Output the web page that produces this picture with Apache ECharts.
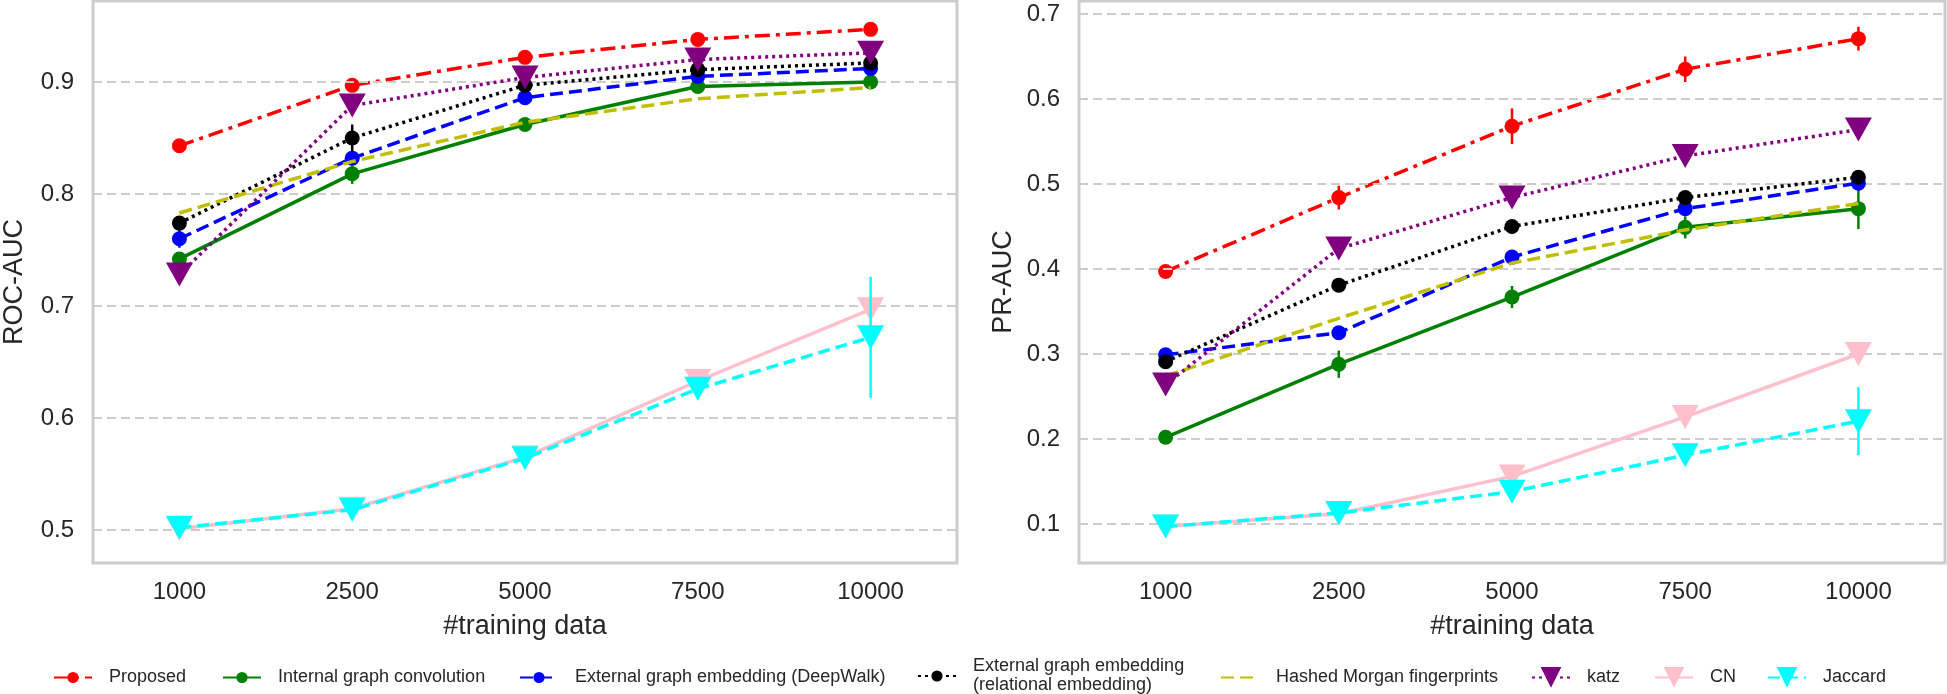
<!DOCTYPE html>
<html>
<head>
<meta charset="utf-8">
<script src="https://cdn.jsdelivr.net/npm/echarts@6/dist/echarts.min.js"></script>
<style>
html,body{margin:0;padding:0;background:#fff;}
#chart{width:1947px;height:694px;}
</style>
</head>
<body>
<div id="chart"></div>
<script>
// ---------- DATA ----------
const categories = ['1000', '2500', '5000', '7500', '10000'];
const rocTicks = [0.5, 0.6, 0.7, 0.8, 0.9];
const prTicks = [0.1, 0.2, 0.3, 0.4, 0.5, 0.6, 0.7];

const seriesNames = [
  'Proposed',
  'Internal graph convolution',
  'External graph embedding (DeepWalk)',
  'External graph embedding\n(relational embedding)',
  'Hashed Morgan fingerprints',
  'katz',
  'CN',
  'Jaccard'
];

// ROC-AUC means
const rocProposed   = [0.843, 0.897, 0.922, 0.938, 0.947];
const rocInternal   = [0.742, 0.818, 0.862, 0.896, 0.900];
const rocDeepWalk   = [0.760, 0.832, 0.886, 0.905, 0.912];
const rocRelational = [0.774, 0.850, 0.897, 0.911, 0.917];
const rocMorgan     = [0.783, 0.829, 0.864, 0.885, 0.895];
const rocKatz       = [0.728, 0.879, 0.904, 0.920, 0.926];
const rocCN         = [0.501, 0.519, 0.565, 0.633, 0.697];
const rocJaccard    = [0.502, 0.518, 0.564, 0.626, 0.672];
// ROC-AUC error (std)
const rocProposedErr   = [0.003, 0.003, 0.003, 0.002, 0.002];
const rocInternalErr   = [0.006, 0.009, 0.005, 0.004, 0.003];
const rocDeepWalkErr   = [0.008, 0.005, 0.004, 0.003, 0.003];
const rocRelationalErr = [0.006, 0.012, 0.004, 0.003, 0.003];
const rocMorganErr     = [0, 0, 0, 0, 0];
const rocKatzErr       = [0.003, 0.003, 0.002, 0.002, 0.002];
const rocCNErr         = [0.002, 0.002, 0.003, 0.004, 0.006];
const rocJaccardErr    = [0.003, 0.003, 0.004, 0.006, 0.054];

// PR-AUC means
const prProposed   = [0.397, 0.484, 0.568, 0.635, 0.671];
const prInternal   = [0.202, 0.288, 0.367, 0.449, 0.471];
const prDeepWalk   = [0.299, 0.325, 0.414, 0.471, 0.501];
const prRelational = [0.291, 0.381, 0.450, 0.484, 0.508];
const prMorgan     = [0.274, 0.342, 0.407, 0.446, 0.477];
const prKatz       = [0.264, 0.424, 0.484, 0.533, 0.564];
const prCN         = [0.097, 0.112, 0.156, 0.226, 0.300];
const prJaccard    = [0.097, 0.113, 0.138, 0.181, 0.221];
// PR-AUC error (std)
const prProposedErr   = [0.004, 0.014, 0.021, 0.015, 0.014];
const prInternalErr   = [0.004, 0.016, 0.013, 0.013, 0.024];
const prDeepWalkErr   = [0.008, 0.006, 0.006, 0.006, 0.006];
const prRelationalErr = [0.006, 0.005, 0.005, 0.005, 0.005];
const prMorganErr     = [0, 0, 0, 0, 0];
const prKatzErr       = [0.004, 0.004, 0.004, 0.004, 0.004];
const prCNErr         = [0.002, 0.002, 0.004, 0.005, 0.006];
const prJaccardErr    = [0.002, 0.002, 0.004, 0.005, 0.040];

// ---------- STYLES ----------
const styles = [
  {color: '#ff0000', type: [15, 6, 4, 6], symbol: 'circle', size: 15},
  {color: '#008000', type: 'solid', symbol: 'circle', size: 15},
  {color: '#0000ff', type: [13, 6], symbol: 'circle', size: 15},
  {color: '#000000', type: [3, 4], symbol: 'circle', size: 15},
  {color: '#bfbf00', type: [13, 6], symbol: 'none', size: 0},
  {color: '#800080', type: [3, 4], symbol: 'triangle', size: [27, 24]},
  {color: '#ffc0cb', type: 'solid', symbol: 'triangle', size: [27, 24]},
  {color: '#00ffff', type: [12, 6], symbol: 'triangle', size: [27, 24]}
];

const rocMeans = [rocProposed, rocInternal, rocDeepWalk, rocRelational, rocMorgan, rocKatz, rocCN, rocJaccard];
const rocErrs  = [rocProposedErr, rocInternalErr, rocDeepWalkErr, rocRelationalErr, rocMorganErr, rocKatzErr, rocCNErr, rocJaccardErr];
const prMeans  = [prProposed, prInternal, prDeepWalk, prRelational, prMorgan, prKatz, prCN, prJaccard];
const prErrs   = [prProposedErr, prInternalErr, prDeepWalkErr, prRelationalErr, prMorganErr, prKatzErr, prCNErr, prJaccardErr];

const FONT = 'Liberation Sans, Arial, Helvetica, sans-serif';
const TXT = '#262626';
const GRIDC = '#cccccc';

function buildSeries(means, errs, axisIdx, ticks) {
  const out = [];
  out.push({
    type: 'line', xAxisIndex: axisIdx, yAxisIndex: axisIdx, z: 1, silent: true,
    data: categories.map(() => null), showSymbol: false,
    markLine: {
      silent: true, symbol: ['none', 'none'], label: {show: false},
      lineStyle: {color: GRIDC, type: [9, 5], width: 2},
      data: ticks.map(t => ({yAxis: t}))
    }
  });
  means.forEach((m, i) => {
    const st = styles[i];
    out.push({
      name: seriesNames[i], type: 'line', xAxisIndex: axisIdx, yAxisIndex: axisIdx,
      z: 3 + i * 2, data: m,
      symbol: st.symbol, symbolSize: st.size, symbolRotate: st.symbol === 'triangle' ? 180 : 0,
      showSymbol: st.symbol !== 'none',
      lineStyle: {color: st.color, width: 3.5, type: st.type},
      itemStyle: {color: st.color, borderWidth: 0},
      animation: false
    });
    out.push({
      type: 'custom', xAxisIndex: axisIdx, yAxisIndex: axisIdx, z: 3 + i * 2, silent: true,
      data: m.map((v, k) => [k, v, errs[i][k]]),
      renderItem: function (params, api) {
        const e = api.value(2);
        if (!e) return null;
        const x = api.value(0), y = api.value(1);
        const p1 = api.coord([x, y - e]);
        const p2 = api.coord([x, y + e]);
        return {type: 'line', shape: {x1: p1[0], y1: p1[1], x2: p2[0], y2: p2[1]},
                style: {stroke: st.color, lineWidth: 2.5}};
      },
      animation: false
    });
  });
  return out;
}

const legendLeft = [53, 222, 519, 917, 1220, 1531, 1654, 1767];
const legendTop  = [668, 668, 668, 657, 668, 667, 667, 667];
const legends = seriesNames.map((n, i) => {
  const tri = styles[i].symbol === 'triangle';
  const ih = tri ? 26 : 14;
  const item = styles[i].symbol === 'none' ? {name: n, itemStyle: {opacity: 0}} : {name: n};
  return {
    data: [item], left: legendLeft[i], top: legendTop[i],
    itemWidth: 38, itemHeight: ih, padding: 0, selectedMode: false,
    textStyle: {fontSize: 18, color: TXT, fontFamily: FONT, padding: [0, 0, 0, 12], lineHeight: 19}
  };
});

const xAxisBase = {
  type: 'category', data: categories, boundaryGap: true,
  axisLine: {show: false}, axisTick: {show: false},
  axisLabel: {fontSize: 24, color: TXT, fontFamily: FONT, margin: 17},
  name: '#training data', nameLocation: 'middle', nameGap: 50,
  nameTextStyle: {fontSize: 27, color: TXT, fontFamily: FONT},
  splitLine: {show: false}
};

const option = {
  backgroundColor: '#ffffff',
  animation: false,
  grid: [
    {left: 91, top: 1, width: 866, height: 562, show: true, borderColor: GRIDC, borderWidth: 3, backgroundColor: '#fff'},
    {left: 1079, top: 1, width: 866, height: 562, show: true, borderColor: GRIDC, borderWidth: 3, backgroundColor: '#fff'}
  ],
  xAxis: [
    Object.assign({gridIndex: 0}, xAxisBase),
    Object.assign({gridIndex: 1}, xAxisBase)
  ],
  yAxis: [
    {
      type: 'value', gridIndex: 0, min: 0.4705, max: 0.9723,
      axisLine: {show: false}, axisTick: {show: false}, splitLine: {show: false},
      axisLabel: {customValues: rocTicks, fontSize: 24, color: TXT, fontFamily: FONT, margin: 19,
                  formatter: v => v.toFixed(1)},
      name: 'ROC-AUC', nameLocation: 'middle', nameGap: 65,
      nameTextStyle: {fontSize: 27, color: TXT, fontFamily: FONT}
    },
    {
      type: 'value', gridIndex: 1, min: 0.0541, max: 0.7153,
      axisLine: {show: false}, axisTick: {show: false}, splitLine: {show: false},
      axisLabel: {customValues: prTicks, fontSize: 24, color: TXT, fontFamily: FONT, margin: 19,
                  formatter: v => v.toFixed(1)},
      name: 'PR-AUC', nameLocation: 'middle', nameGap: 62,
      nameTextStyle: {fontSize: 27, color: TXT, fontFamily: FONT}
    }
  ],
  legend: legends,
  series: buildSeries(rocMeans, rocErrs, 0, rocTicks).concat(buildSeries(prMeans, prErrs, 1, prTicks))
};

const chart = echarts.init(document.getElementById('chart'), null, {renderer: 'canvas'});
chart.setOption(option);
</script>
</body>
</html>
